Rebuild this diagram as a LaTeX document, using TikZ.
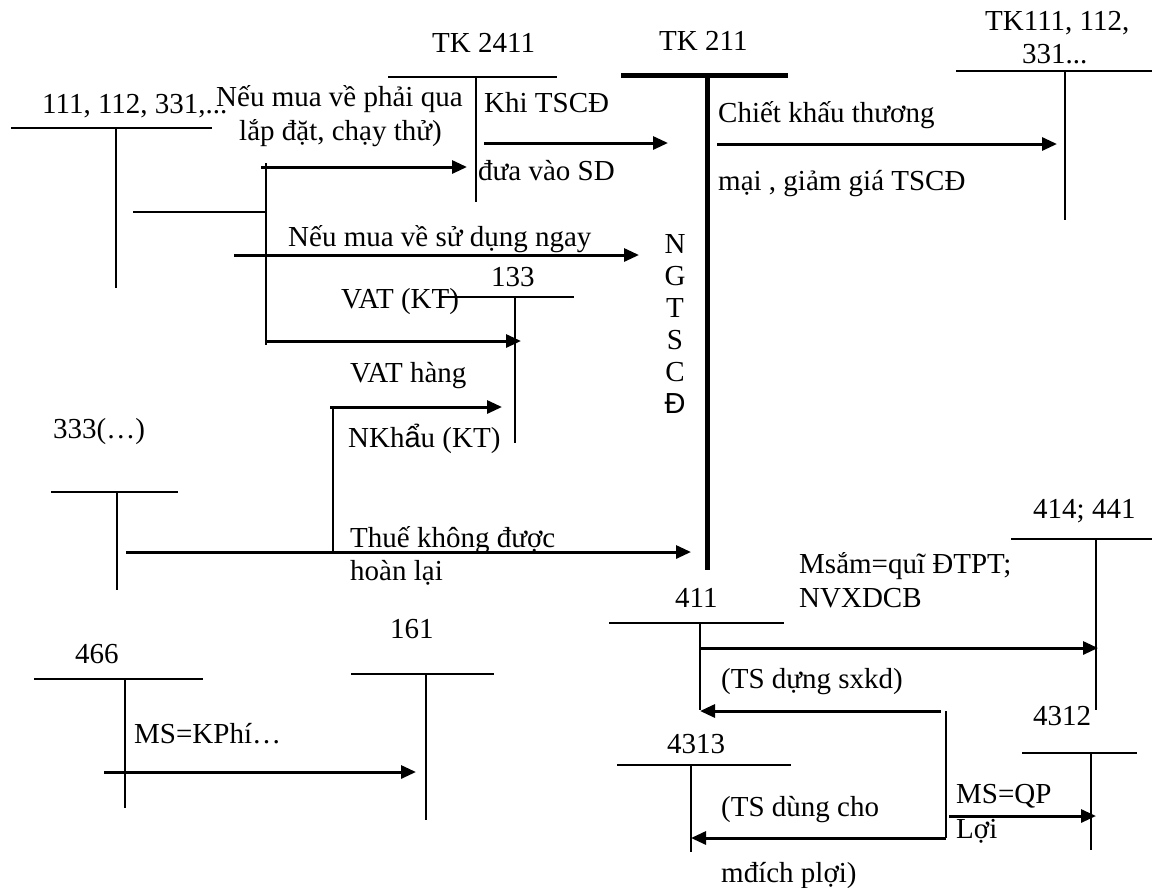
\documentclass[tikz,border=0pt]{standalone}
\usepackage{fontspec}
\setmainfont{Liberation Serif}
\newfontfamily\sansf{Liberation Sans}
\usetikzlibrary{arrows.meta}
\tikzset{
  tl/.style={line width=1.5pt},
  tkthick/.style={line width=5pt},
  arr/.style={line width=3pt,-{Triangle[length=15pt,width=13pt]}},
  lbl/.style={anchor=base west,inner sep=0pt,font=\fontsize{29}{32}\selectfont},
}
\begin{document}
\begin{tikzpicture}[x=1pt,y=-1pt]
\useasboundingbox[fill=white] (0,0) rectangle (1158,887);
% ---- T-accounts ----
% 111,112,331
\coordinate (a1L) at (11,128); \coordinate (a1R) at (212,128);
\coordinate (a1T) at (116,128); \coordinate (a1B) at (116,288);
\draw[tl] (a1L) -- (a1R); \draw[tl] (a1T) -- (a1B);
% TK 2411
\coordinate (b1L) at (388,77); \coordinate (b1R) at (557,77);
\coordinate (b1T) at (476,77); \coordinate (b1B) at (476,202);
\draw[tl] (b1L) -- (b1R); \draw[tl] (b1T) -- (b1B);
% TK 211
\coordinate (c1L) at (621,75); \coordinate (c1R) at (788,75);
\coordinate (c1T) at (707,75); \coordinate (c1B) at (707,570);
\draw[tkthick] (c1L) -- (c1R); \draw[tkthick] (c1T) -- (c1B);
% TK111,112,331 right
\coordinate (d1L) at (956,71); \coordinate (d1R) at (1152,71);
\coordinate (d1T) at (1065,71); \coordinate (d1B) at (1065,220);
\draw[tl] (d1L) -- (d1R); \draw[tl] (d1T) -- (d1B);
% 133
\coordinate (e1L) at (440,297); \coordinate (e1R) at (574,297);
\coordinate (e1T) at (515,297); \coordinate (e1B) at (515,443);
\draw[tl] (e1L) -- (e1R); \draw[tl] (e1T) -- (e1B);
% 333
\coordinate (f1L) at (51,492); \coordinate (f1R) at (178,492);
\coordinate (f1T) at (117,492); \coordinate (f1B) at (117,590);
\draw[tl] (f1L) -- (f1R); \draw[tl] (f1T) -- (f1B);
% 466
\coordinate (g1L) at (34,679); \coordinate (g1R) at (203,679);
\coordinate (g1T) at (125,679); \coordinate (g1B) at (125,808);
\draw[tl] (g1L) -- (g1R); \draw[tl] (g1T) -- (g1B);
% 161
\coordinate (h1L) at (351,674); \coordinate (h1R) at (494,674);
\coordinate (h1T) at (426,674); \coordinate (h1B) at (426,820);
\draw[tl] (h1L) -- (h1R); \draw[tl] (h1T) -- (h1B);
% 411
\coordinate (i1L) at (609,623); \coordinate (i1R) at (784,623);
\coordinate (i1T) at (700,623); \coordinate (i1B) at (700,710);
\draw[tl] (i1L) -- (i1R); \draw[tl] (i1T) -- (i1B);
% 414; 441
\coordinate (j1L) at (1011,539); \coordinate (j1R) at (1152,539);
\coordinate (j1T) at (1096,539); \coordinate (j1B) at (1096,710);
\draw[tl] (j1L) -- (j1R); \draw[tl] (j1T) -- (j1B);
% 4312
\coordinate (k1L) at (1022,753); \coordinate (k1R) at (1137,753);
\coordinate (k1T) at (1091,753); \coordinate (k1B) at (1091,850);
\draw[tl] (k1L) -- (k1R); \draw[tl] (k1T) -- (k1B);
% 4313
\coordinate (l1L) at (617,765); \coordinate (l1R) at (791,765);
\coordinate (l1T) at (691,765); \coordinate (l1B) at (691,852);
\draw[tl] (l1L) -- (l1R); \draw[tl] (l1T) -- (l1B);
% ---- connectors ----
\coordinate (brT) at (266,163); \coordinate (brB) at (266,345);
\coordinate (brM) at (266,212); \coordinate (brS) at (133,212);
\draw[line width=2pt] (brT) -- (brB);
\draw[tl] (brS) -- (brM);
\coordinate (r1s) at (261,167); \coordinate (r1e) at (467,167);
\draw[arr] (r1s) -- (r1e);
\coordinate (r2s) at (234,255); \coordinate (r2e) at (639,255);
\draw[arr] (r2s) -- (r2e);
\coordinate (r3s) at (266,341); \coordinate (r3e) at (521,341);
\draw[arr] (r3s) -- (r3e);
\coordinate (r4s) at (330,407); \coordinate (r4e) at (502,407);
\draw[arr] (r4s) -- (r4e);
\coordinate (v4T) at (333,407); \coordinate (v4B) at (333,552);
\draw[tl] (v4T) -- (v4B);
\coordinate (r5s) at (484,143); \coordinate (r5e) at (668,143);
\draw[arr] (r5s) -- (r5e);
\coordinate (r6s) at (717,144); \coordinate (r6e) at (1057,144);
\draw[arr] (r6s) -- (r6e);
\coordinate (r7s) at (126,552); \coordinate (r7e) at (691,552);
\draw[arr] (r7s) -- (r7e);
\coordinate (r8s) at (104,772); \coordinate (r8e) at (416,772);
\draw[arr] (r8s) -- (r8e);
\coordinate (r9s) at (700,648); \coordinate (r9e) at (1098,648);
\draw[arr] (r9s) -- (r9e);
\coordinate (r10s) at (941,711); \coordinate (r10e) at (700,711);
\draw[arr] (r10s) -- (r10e);
\coordinate (v10T) at (946,711); \coordinate (v10B) at (946,838);
\draw[tl] (v10T) -- (v10B);
\coordinate (r11s) at (946,838); \coordinate (r11e) at (691,838);
\draw[arr] (r11s) -- (r11e);
\coordinate (r12s) at (949,816); \coordinate (r12e) at (1096,816);
\draw[arr] (r12s) -- (r12e);
% ---- labels ----
\node[lbl] (t2411) at (432,52) {TK 2411};
\node[lbl] (t211) at (659,50) {TK 211};
\node[lbl] (t111a) at (985,30) {TK111, 112,};
\node[lbl] (t111b) at (1022,63) {331...};
\node[lbl] (t111l) at (42,113) {111, 112, 331,...};
\node[lbl] (nm1) at (216,106) {Nếu mua về phải qua};
\node[lbl] (nm2) at (239,140) {lắp đặt, chạy thử)};
\node[lbl] (khi) at (484,112) {Khi TSCĐ};
\node[lbl] (dua) at (478,180) {đưa vào SD};
\node[lbl] (ck1) at (718,122) {Chiết khấu thương};
\node[lbl] (ck2) at (718,190) {mại , giảm giá TSCĐ};
\node[lbl] (sdn) at (288,246) {Nếu mua về sử dụng ngay};
\node[lbl] (t133) at (491,286) {133};
\node[lbl] (vat1) at (341,308) {VAT (KT)};
\node[lbl] (vat2) at (350,382) {VAT hàng};
\node[lbl] (nk) at (348,447) {NKh{\sansf ẩ}u (KT)};
\node[lbl] (t333) at (53,438) {333(…)};
\node[inner sep=0pt,anchor=north,align=center,font=\fontsize{29}{32}\selectfont] (ngt) at (675,234) {N\\G\\T\\S\\C\\{\sansf Đ}};
\node[lbl] (th1) at (350,547) {Thuế không được};
\node[lbl] (th2) at (350,580) {hoàn lại};
\node[lbl] (t414) at (1033,518) {414; 441};
\node[lbl] (ms1) at (799,573) {Msắm=quĩ ĐTPT;};
\node[lbl] (ms2) at (799,607) {NVXDCB};
\node[lbl] (t411) at (675,607) {411};
\node[lbl] (t466) at (75,663) {466};
\node[lbl] (t161) at (390,638) {161};
\node[lbl] (msk) at (134,743) {MS=KPhí…};
\node[lbl] (tsd) at (721,688) {(TS dựng sxkd)};
\node[lbl] (t4312) at (1033,725) {4312};
\node[lbl] (t4313) at (667,753) {4313};
\node[lbl] (qp1) at (956,803) {MS=QP};
\node[lbl] (qp2) at (956,838) {Lợi};
\node[lbl] (tdc1) at (721,816) {(TS dùng cho};
\node[lbl] (tdc2) at (721,882) {mđích plợi)};
\end{tikzpicture}
\end{document}
